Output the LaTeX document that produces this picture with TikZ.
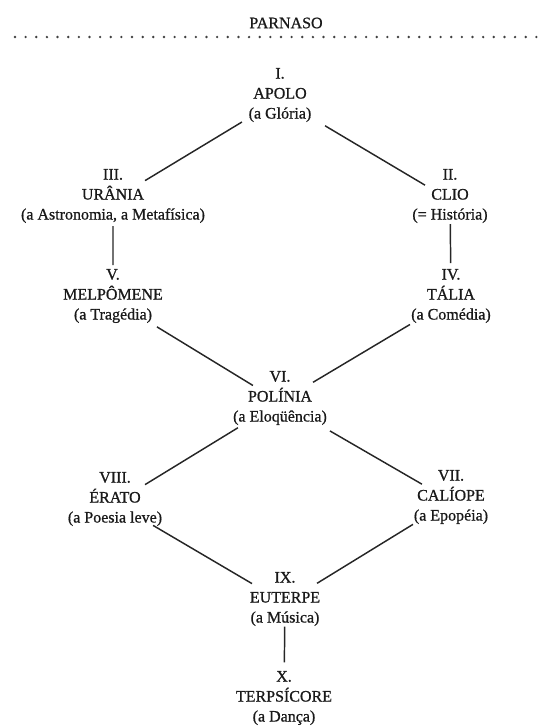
\documentclass[tikz,border=0pt]{standalone}
\usepackage{fontspec}
\setmainfont{Liberation Serif}
\newfontfamily\scanfont[FakeBold=0.8]{Liberation Serif}
\usepackage{tikz}
\usetikzlibrary{calc}

\tikzset{
	muse/.style={align=center, inner sep=0pt, font=\scanfont\fontsize{12}{15}\selectfont, text=black!90},
	link/.style={line width=1.1pt, black!85},
}

\begin{document}
\begin{tikzpicture}[x=0.75pt, y=-0.75pt]
		\useasboundingbox (0,0) rectangle (544,726);
		\node[muse] (parnaso) at (286,23) {PARNASO};
		\foreach \i in {0,...,49}
			\fill[black!75] (15+\i*10.64,37) circle (1pt);
		\node[muse] (apolo) at (280,95) {I.\\APOLO\\(a Glória)};
		\node[muse] (urania) at (113,196) {III.\\URÂNIA\\(a Astronomia, a Metafísica)};
		\node[muse] (clio) at (450,196) {II.\\CLIO\\(= História)};
		\node[muse] (melpomene) at (113,296) {V.\\MELPÔMENE\\(a Tragédia)};
		\node[muse] (talia) at (451,296) {IV.\\TÁLIA\\(a Comédia)};
		\node[muse] (polinia) at (280,398) {VI.\\POLÍNIA\\(a Eloqüência)};
		\node[muse] (erato) at (115,499) {VIII.\\ÉRATO\\(a Poesia leve)};
		\node[muse] (caliope) at (451,497) {VII.\\CALÍOPE\\(a Epopéia)};
		\node[muse] (euterpe) at (285,599) {IX.\\EUTERPE\\(a Música)};
		\node[muse] (terpsicore) at (284,698) {X.\\TERPSÍCORE\\(a Dança)};
		\draw[link] ($(apolo)!.228!(urania)+(0,4)$) -- ($(apolo)!.808!(urania)+(0,4)$);
		\draw[link] ($(apolo)!.265!(clio)+(0,4)$) -- ($(apolo)!.853!(clio)+(0,4)$);
		\draw[link] ($(urania)!.30!(melpomene)$) -- ($(urania)!.69!(melpomene)$);
		\draw[link] ($(clio)!.28!(talia)$) -- ($(clio)!.67!(talia)$);
		\draw[link] ($(melpomene)!.263!(polinia)+(0,4)$) -- ($(melpomene)!.838!(polinia)+(0,4)$);
		\draw[link] ($(talia)!.24!(polinia)+(0,4)$) -- ($(talia)!.807!(polinia)+(0,4)$);
		\draw[link] ($(polinia)!.255!(erato)+(0,4)$) -- ($(polinia)!.818!(erato)+(0,4)$);
		\draw[link] ($(polinia)!.292!(caliope)+(0,4)$) -- ($(polinia)!.83!(caliope)+(0,4)$);
		\draw[link] ($(erato)!.224!(euterpe)+(0,4)$) -- ($(erato)!.806!(euterpe)+(0,4)$);
		\draw[link] ($(caliope)!.229!(euterpe)+(0,4)$) -- ($(caliope)!.807!(euterpe)+(0,4)$);
		\draw[link] ($(euterpe)!.28!(terpsicore)$) -- ($(euterpe)!.64!(terpsicore)$);
	\end{tikzpicture}
\end{document}
